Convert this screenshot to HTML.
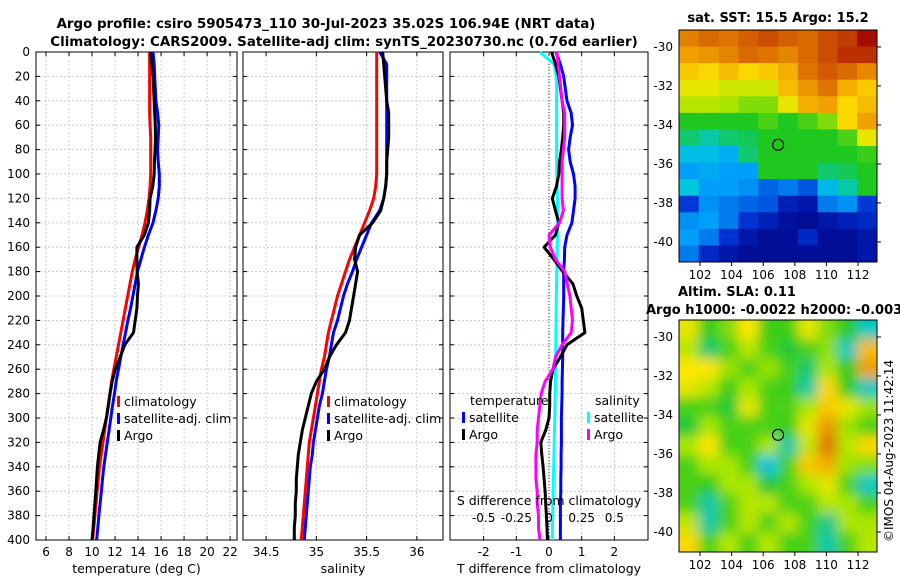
<!DOCTYPE html>
<html><head><meta charset="utf-8"><style>
body{margin:0;background:#fff;}
svg{display:block;font-family:"DejaVu Sans","Liberation Sans",sans-serif;}
</style></head><body>
<svg id="c" width="900" height="580" xmlns="http://www.w3.org/2000/svg">
<text x="326" y="28" text-anchor="middle" font-size="13.4" font-weight="bold">Argo profile: csiro 5905473_110 30-Jul-2023 35.02S 106.94E (NRT data)</text>
<text x="344" y="46" text-anchor="middle" font-size="13.4" font-weight="bold">Climatology: CARS2009. Satellite-adj clim: synTS_20230730.nc (0.76d earlier)</text>
<text x="778" y="22" text-anchor="middle" font-size="13" font-weight="bold">sat. SST: 15.5 Argo: 15.2</text>
<text x="678" y="296" font-size="13" font-weight="bold">Altim. SLA: 0.11</text>
<text x="646" y="314" font-size="13" font-weight="bold">Argo h1000: -0.0022 h2000: -0.003</text>
<text transform="translate(893,542) rotate(-90)" font-size="12">©IMOS 04-Aug-2023 11:42:14</text>
</svg>
<script>
const depths=[0,10,20,30,40,50,60,70,80,90,100,110,120,130,140,150,160,170,180,190,200,210,220,230,240,250,260,270,280,290,300,310,320,330,340,350,360,370,380,390,400];
const depthTicks=[0,20,40,60,80,100,120,140,160,180,200,220,240,260,280,300,320,340,360,380,400];
const tempTicks=[6,8,10,12,14,16,18,20,22];
const salTicks=[34.5,35,35.5,36];
const tdiffTicks=[-2,-1,0,1,2];
const sdiffTicks=[-0.5,-0.25,0,0.25,0.5];
const climT=[15.0,15.0,15.0,15.0,15.0,15.0,15.05,15.1,15.1,15.1,15.1,15.05,14.95,14.8,14.6,14.35,14.05,13.75,13.5,13.3,13.1,12.9,12.7,12.5,12.3,12.1,11.9,11.7,11.55,11.4,11.25,11.1,10.95,10.8,10.65,10.55,10.45,10.35,10.25,10.15,10.05];
const satT=[15.3,15.4,15.45,15.5,15.55,15.7,15.8,15.75,15.7,15.75,15.85,15.85,15.75,15.55,15.3,14.9,14.55,14.25,13.95,13.75,13.55,13.35,13.12,12.92,12.7,12.5,12.3,12.1,11.95,11.78,11.63,11.48,11.33,11.17,11.02,10.91,10.81,10.7,10.6,10.5,10.4];
const argoT=[15.08,15.2,15.3,15.35,15.4,15.45,15.5,15.52,15.48,15.42,15.4,15.28,15.05,15.0,14.9,14.55,13.9,13.9,13.92,14.03,13.95,13.9,13.75,13.6,12.85,12.45,12.02,11.75,11.57,11.42,11.25,11.0,10.7,10.58,10.47,10.4,10.33,10.25,10.17,10.09,10.0];
const climS=[35.6,35.6,35.6,35.6,35.6,35.6,35.6,35.6,35.6,35.6,35.6,35.59,35.57,35.53,35.48,35.43,35.38,35.33,35.29,35.25,35.21,35.18,35.15,35.12,35.1,35.08,35.05,35.03,35.01,34.99,34.97,34.95,34.93,34.92,34.91,34.9,34.89,34.88,34.87,34.86,34.85];
const satS=[35.63,35.7,35.7,35.7,35.7,35.7,35.7,35.7,35.7,35.7,35.7,35.69,35.67,35.63,35.55,35.5,35.45,35.4,35.36,35.31,35.27,35.24,35.21,35.17,35.15,35.13,35.1,35.08,35.06,35.03,35.01,34.99,34.97,34.96,34.94,34.93,34.92,34.91,34.9,34.89,34.88];
const argoS=[35.66,35.67,35.68,35.69,35.7,35.72,35.72,35.72,35.71,35.7,35.7,35.69,35.67,35.64,35.56,35.43,35.39,35.38,35.41,35.39,35.37,35.35,35.33,35.29,35.2,35.13,35.08,35.0,34.95,34.92,34.89,34.86,34.84,34.82,34.81,34.8,34.8,34.79,34.79,34.78,34.78];
const tdiffSat=[0.21,0.35,0.45,0.5,0.55,0.68,0.72,0.65,0.6,0.65,0.75,0.8,0.8,0.75,0.7,0.55,0.48,0.47,0.45,0.45,0.45,0.44,0.43,0.42,0.42,0.42,0.41,0.4,0.4,0.39,0.38,0.38,0.38,0.37,0.37,0.36,0.36,0.35,0.35,0.35,0.35];
const tdiffArgo=[0.08,0.2,0.3,0.35,0.4,0.45,0.45,0.42,0.38,0.32,0.3,0.23,0.1,0.2,0.3,0.2,-0.15,0.15,0.42,0.73,0.85,1.0,1.05,1.1,0.55,0.35,0.12,0.05,0.02,0.02,0.0,-0.1,-0.25,-0.22,-0.18,-0.15,-0.12,-0.1,-0.08,-0.06,-0.05];
const sdiffSat=[-0.07,0.04,0.055,0.058,0.058,0.058,0.058,0.058,0.058,0.058,0.06,0.062,0.064,0.065,0.065,0.064,0.063,0.062,0.06,0.058,0.056,0.055,0.054,0.053,0.052,0.051,0.05,0.049,0.048,0.046,0.044,0.042,0.04,0.038,0.036,0.034,0.032,0.03,0.028,0.026,0.025];
const sdiffArgo=[0.06,0.07,0.08,0.09,0.1,0.12,0.12,0.12,0.11,0.1,0.1,0.1,0.1,0.11,0.08,0.0,0.01,0.05,0.12,0.14,0.16,0.17,0.18,0.17,0.1,0.05,0.03,-0.03,-0.06,-0.07,-0.08,-0.09,-0.09,-0.1,-0.1,-0.1,-0.09,-0.09,-0.08,-0.08,-0.07];
const latTicks=[-30,-32,-34,-36,-38,-40];
const lonTicks=[102,104,106,108,110,112];
const argoLon=106.94, argoLat=-35.02;
const sstGrid=[
[.78,.82,.8,.84,.87,.84,.82,.87,.9,.98],
[.72,.74,.77,.82,.8,.77,.82,.87,.92,.92],
[.66,.64,.68,.64,.66,.7,.8,.85,.82,.76],
[.6,.6,.58,.58,.58,.68,.74,.8,.7,.66],
[.56,.56,.55,.52,.52,.6,.7,.72,.64,.68],
[.45,.45,.45,.45,.48,.45,.48,.52,.64,.72],
[.42,.4,.42,.43,.45,.45,.45,.45,.48,.6],
[.36,.36,.33,.42,.45,.45,.45,.45,.45,.47],
[.3,.32,.3,.3,.45,.45,.45,.42,.43,.45],
[.38,.3,.3,.28,.22,.25,.2,.35,.4,.45],
[.16,.28,.25,.22,.2,.1,.07,.25,.28,.16],
[.28,.3,.25,.15,.1,.05,.04,.07,.1,.12],
[.3,.25,.15,.07,.04,.04,.12,.04,.04,.07],
[.25,.12,.07,.04,.04,.04,.04,.04,.04,.07]];
const slaGrid=[
[.6,.46,.52,.62,.47,.47,.6,.52,.46,.39],
[.56,.42,.48,.56,.48,.44,.48,.53,.39,.68],
[.62,.62,.54,.48,.54,.48,.42,.55,.46,.72],
[.6,.56,.47,.55,.48,.47,.4,.64,.46,.39],
[.48,.48,.44,.6,.48,.48,.55,.66,.6,.54],
[.44,.55,.48,.48,.48,.47,.6,.74,.54,.48],
[.55,.62,.48,.48,.55,.4,.57,.8,.56,.64],
[.48,.55,.55,.48,.37,.48,.66,.7,.54,.52],
[.48,.46,.55,.55,.44,.48,.55,.6,.48,.39],
[.48,.4,.48,.56,.56,.48,.48,.56,.55,.48],
[.57,.4,.48,.56,.48,.56,.48,.41,.55,.55],
[.64,.48,.56,.48,.56,.48,.48,.4,.48,.56]];

const NS='http://www.w3.org/2000/svg';
const svg=document.getElementById('c');
function mk(tag,attrs,parent){const e=document.createElementNS(NS,tag);for(const k in attrs)e.setAttribute(k,attrs[k]);(parent||svg).appendChild(e);return e;}
const Y0=52,Y1=540;
const yD=d=>Y0+(d/400)*(Y1-Y0);
function panel(name,x0,x1,xmin,xmax,ticks,fmt,xlabel){
  const g=mk('g',{});
  
  
  const xs=v=>x0+(v-xmin)/(xmax-xmin)*(x1-x0);
  ticks.forEach(t=>{const l=mk('line',{x1:xs(t),x2:xs(t),y1:Y0,y2:Y1,stroke:'#b8bfdc','stroke-width':0.8,'stroke-dasharray':'2,2'},g);
    
    
    const tx=mk('text',{x:xs(t),y:Y1+16,'text-anchor':'middle','font-size':12},g);tx.textContent=fmt(t);
    
    
    mk('line',{x1:xs(t),x2:xs(t),y1:Y1,y2:Y1-4,stroke:'#000'},g);mk('line',{x1:xs(t),x2:xs(t),y1:Y0,y2:Y0+4,stroke:'#000'},g);});
  depthTicks.forEach(d=>{const l=mk('line',{x1:x0,x2:x1,y1:yD(d),y2:yD(d),stroke:'#b8bfdc','stroke-width':0.8,'stroke-dasharray':'2,2'},g);
    
    
    mk('line',{x1:x0,x2:x0+4,y1:yD(d),y2:yD(d),stroke:'#000'},g);mk('line',{x1:x1,x2:x1-4,y1:yD(d),y2:yD(d),stroke:'#000'},g);});
  const r=mk('rect',{x:x0,y:Y0,width:x1-x0,height:Y1-Y0,fill:'none',stroke:'#000','stroke-width':1},g);
  
  
  const xl=mk('text',{x:(x0+x1)/2,y:Y1+33,'text-anchor':'middle','font-size':12.5},g);xl.textContent=xlabel;
  
  
  return {g,xs};
}
function line(p,vals,color,name,w){
  const pts=vals.map((v,i)=>p.xs(v).toFixed(1)+','+yD(depths[i]).toFixed(1)).join(' ');
  const l=mk('polyline',{points:pts,fill:'none',stroke:color,'stroke-width':w||3,'stroke-linejoin':'round'},p.g);
  
  
}
function legend(g,x,y,items){
  items.forEach((it,i)=>{const yy=y+i*17;
    mk('rect',{x:x,y:yy-10,width:3,height:11,fill:it[1]},g);
    const t=mk('text',{x:x+7,y:yy,'font-size':12.5},g);t.textContent=it[0];
    
    });
}
depthTicks.forEach(d=>{const t=mk('text',{x:30,y:yD(d)+4,'text-anchor':'end','font-size':12});t.textContent=d;
  
  });
const p1=panel('temperature-panel',36,237,5.13,22.6,tempTicks,v=>v,'temperature (deg C)');
line(p1,climT,'#ff0000','clim-temp-line');line(p1,satT,'#0000ff','sat-temp-line');line(p1,argoT,'#000','argo-temp-line');
legend(p1.g,117,406,[['climatology','#f00'],['satellite-adj. clim','#00f'],['Argo','#000']]);
const p2=panel('salinity-panel',243,443,34.27,36.26,salTicks,v=>v,'salinity');
line(p2,climS,'#ff0000','clim-sal-line');line(p2,satS,'#0000ff','sat-sal-line');line(p2,argoS,'#000','argo-sal-line');
legend(p2.g,327,406,[['climatology','#f00'],['satellite-adj. clim','#00f'],['Argo','#000']]);
const p3=panel('difference-panel',450,648,-3.03,3.03,tdiffTicks,v=>v,'T difference from climatology');
const zl=mk('line',{x1:p3.xs(0),x2:p3.xs(0),y1:Y0,y2:Y1,stroke:'#333','stroke-dasharray':'1,2'},p3.g);


const p3s={g:p3.g,xs:v=>p3.xs(v*4)};
line(p3s,sdiffSat,'#00ffff','sat-sdiff-line');
line(p3,tdiffSat,'#0000ff','sat-tdiff-line');
line(p3,tdiffArgo,'#000','argo-tdiff-line');
line(p3s,sdiffArgo,'#ff00ff','argo-sdiff-line');
let lt=mk('text',{x:470,y:405,'font-size':12.5},p3.g);lt.textContent='temperature';


lt=mk('text',{x:595,y:405,'font-size':12.5},p3.g);lt.textContent='salinity';


legend(p3.g,462,422,[['satellite','#00f'],['Argo','#000']]);
legend(p3.g,587,422,[['satellite','#0ff'],['Argo','#f0f']]);
let st=mk('text',{x:549,y:505,'text-anchor':'middle','font-size':12.5},p3.g);st.textContent='S difference from climatology';


sdiffTicks.forEach(s=>{const t=mk('text',{x:p3s.xs(s),y:522,'text-anchor':'middle','font-size':12},p3.g);t.textContent=s;
  
  });
const cmapStops=[[0,[0,0,130]],[0.15,[0,50,210]],[0.3,[0,160,250]],[0.38,[0,200,220]],[0.45,[30,200,30]],[0.55,[170,230,0]],[0.62,[255,230,0]],[0.72,[240,160,0]],[0.85,[210,90,0]],[1,[160,0,0]]];
function cmap(v){for(let i=1;i<cmapStops.length;i++){const a=cmapStops[i-1],b=cmapStops[i];if(v<=b[0]){const t=(v-a[0])/(b[0]-a[0]);
  return 'rgb('+a[1].map((c,k)=>Math.round(c+(b[1][k]-c)*t)).join(',')+')';}}return 'rgb(160,0,0)';}
function map(name,x0,y0,x1,y1,latTop,latBot,grid,blur){
  const g=mk('g',{});
  
  
  const lonL=100.67,lonR=113.2;
  const xs=l=>x0+(l-lonL)/(lonR-lonL)*(x1-x0);
  const ys=l=>y0+(latTop-l)/(latTop-latBot)*(y1-y0);
  const id='clip'+name;
  const cp=mk('clipPath',{id:id},g);mk('rect',{x:x0,y:y0,width:x1-x0,height:y1-y0},cp);
  const inner=mk('g',{'clip-path':'url(#'+id+')'},g);
  let tg=inner;
  if(blur){const f=mk('filter',{id:'f'+name,x:'-10%',y:'-10%',width:'120%',height:'120%'},g);mk('feGaussianBlur',{stdDeviation:blur},f);tg=mk('g',{filter:'url(#f'+name+')'},inner);}
  const rows=grid.length,cols=grid[0].length,cw=(x1-x0)/cols,ch=(y1-y0)/rows;
  grid.forEach((row,r)=>row.forEach((v,c)=>{
    const ex=blur?20:0;
    mk('rect',{x:x0+c*cw-(c==0?ex:0),y:y0+r*ch-(r==0?ex:0),width:cw+1+(c==0?ex:0)+(c==cols-1?ex:0),height:ch+1+(r==0?ex:0)+(r==rows-1?ex:0),fill:cmap(v)},tg);}));
  const fr=mk('rect',{x:x0,y:y0,width:x1-x0,height:y1-y0,fill:'none',stroke:'#000'},g);
  
  
  latTicks.forEach(l=>{const y=ys(l);mk('line',{x1:x1,x2:x1+4,y1:y,y2:y,stroke:'#000'},g);
    const t=mk('text',{x:x0-6,y:y+4,'text-anchor':'end','font-size':12},g);t.textContent=l;
    
    });
  lonTicks.forEach(l=>{const x=xs(l);mk('line',{x1:x,x2:x,y1:y1,y2:y1+4,stroke:'#000'},g);
    const t=mk('text',{x:x,y:y1+17,'text-anchor':'middle','font-size':12},g);t.textContent=l;
    
    });
  const m=mk('circle',{cx:xs(argoLon),cy:ys(argoLat),r:5.5,fill:'none',stroke:'#000','stroke-width':1.2},g);
  
  
}
map('sst-map',679,30,877,262,-29.13,-41.03,sstGrid,0);
map('sla-map',679,320,877,552,-29.13,-41.03,slaGrid,6);
</script>
</body></html>
